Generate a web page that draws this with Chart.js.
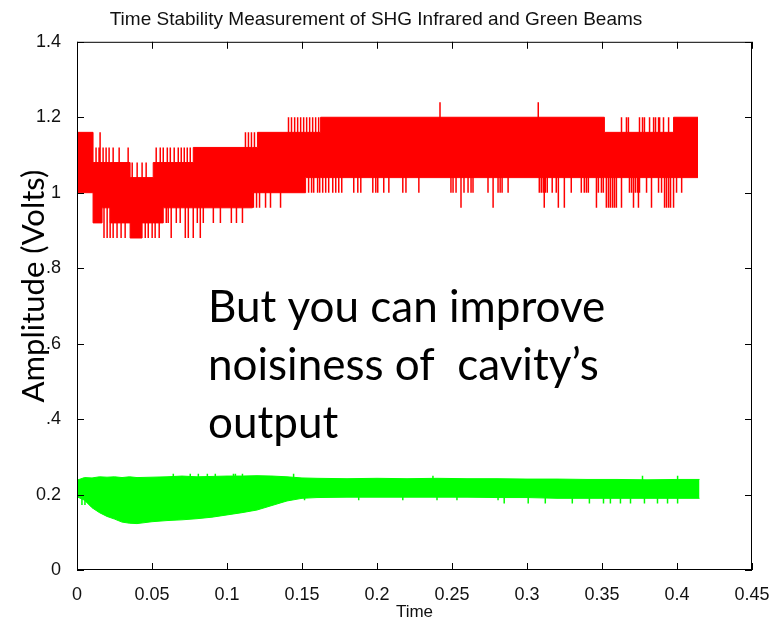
<!DOCTYPE html>
<html>
<head>
<meta charset="utf-8">
<script src="https://cdn.jsdelivr.net/npm/chart.js@4/dist/chart.umd.min.js"></script>
<style>
  body { margin: 0; background: #fff; }
  #myChart { display: block; }
</style>
</head>
<body>
<canvas id="myChart" width="781" height="625"></canvas>
<script>
// axis ticks (the slide covers the "0" of 0.4 .. 0.8)
const xTickLabels = ["0", "0.05", "0.1", "0.15", "0.2", "0.25", "0.3", "0.35", "0.4", "0.45"];
const yTickLabels = ["0", "0.2", ".4", ".6", ".8", "1", "1.2", "1.4"];

// infrared (red) beam: solid band of the noise, each value holds until the next time
const redT  = [0, 0.0107, 0.0167, 0.0221, 0.0354, 0.0434, 0.0508, 0.0575, 0.0775, 0.117, 0.1203, 0.1524, 0.1624, 0.3516, 0.3977, 0.414];
const redLo = [1.00, 0.92, 0.96, 0.92, 0.88, 0.92, 0.92, 0.96, 0.96, 1.00, 1.00, 1.04, 1.04, 1.04, 1.04, 1.04];
const redHi = [1.16, 1.08, 1.08, 1.08, 1.04, 1.04, 1.08, 1.08, 1.12, 1.12, 1.16, 1.16, 1.20, 1.16, 1.20, 1.20];

// single samples that jump out of the band (time lists per level)
const redDip088 = [0.018, 0.0201, 0.0221, 0.0241, 0.0267, 0.0294, 0.0321, 0.0455, 0.0475, 0.0501, 0.0521, 0.0548, 0.0628, 0.0722, 0.0742, 0.0775, 0.0822];
const redDip092 = [0.0595, 0.0608, 0.0662, 0.0688, 0.0802, 0.0842, 0.0909, 0.0956, 0.1029, 0.1063, 0.1103];
const redDip096 = [0.1176, 0.1197, 0.1217, 0.1257, 0.129, 0.1357, 0.256, 0.2774, 0.3115, 0.3209, 0.3249, 0.3463, 0.3529, 0.3543, 0.3556, 0.357, 0.3583, 0.3596, 0.363, 0.371, 0.3743, 0.383, 0.3917, 0.393, 0.3944, 0.3957, 0.3977];
const redDip100 = [0.1544, 0.1564, 0.1578, 0.1604, 0.1618, 0.1638, 0.1658, 0.1678, 0.1705, 0.1725, 0.1745, 0.1765, 0.1845, 0.1872, 0.1892, 0.1972, 0.1992, 0.2005, 0.2045, 0.2079, 0.2172, 0.2193, 0.2279, 0.2493, 0.2507, 0.2527, 0.258, 0.2607, 0.2627, 0.264, 0.274, 0.2807, 0.2821, 0.2834, 0.2874, 0.3082, 0.3095, 0.3108, 0.3122, 0.3135, 0.3168, 0.3195, 0.3295, 0.3362, 0.3382, 0.3396, 0.3409, 0.3476, 0.3496, 0.3509, 0.3683, 0.3697, 0.3723, 0.3737, 0.375, 0.3797, 0.3877, 0.3897, 0.3997, 0.4031];
const redPeak108 = [0.0368, 0.0401, 0.0434, 0.0461];
const redPeak112 = [0.0127, 0.0147, 0.0174, 0.0194, 0.0214, 0.0241, 0.0281, 0.0341, 0.0528, 0.0555, 0.0575, 0.0602, 0.0622, 0.0648, 0.0675, 0.0695, 0.0715, 0.0735, 0.0755];
const redPeak116 = [0.0154, 0.1123, 0.1143, 0.1163, 0.1183];
const redPeak120 = [0.141, 0.143, 0.1451, 0.1471, 0.1491, 0.1511, 0.1531, 0.1551, 0.1571, 0.1591, 0.1611, 0.363, 0.3663, 0.3676, 0.375, 0.377, 0.3783, 0.3817, 0.3844, 0.3857, 0.3877, 0.3884, 0.391, 0.3944];
const redPeak124 = [0.242, 0.3075];

// green beam: envelope of the noise band
const greenT  = [0, 0.005, 0.01, 0.015, 0.02, 0.025, 0.03, 0.035, 0.04, 0.05, 0.06, 0.07, 0.08, 0.09, 0.1, 0.11, 0.12, 0.13, 0.14, 0.15, 0.16, 0.18, 0.2, 0.22, 0.24, 0.26, 0.28, 0.3, 0.32, 0.34, 0.36, 0.38, 0.4, 0.415];
const greenHi = [0.238, 0.245, 0.244, 0.247, 0.246, 0.247, 0.245, 0.247, 0.245, 0.246, 0.247, 0.249, 0.247, 0.248, 0.249, 0.249, 0.25, 0.249, 0.247, 0.244, 0.243, 0.242, 0.243, 0.242, 0.243, 0.242, 0.242, 0.241, 0.241, 0.240, 0.240, 0.239, 0.240, 0.240];
const greenLo = [0.194, 0.185, 0.165, 0.152, 0.142, 0.135, 0.127, 0.124, 0.123, 0.128, 0.131, 0.133, 0.136, 0.14, 0.146, 0.152, 0.159, 0.171, 0.183, 0.19, 0.192, 0.193, 0.193, 0.193, 0.193, 0.193, 0.192, 0.192, 0.19, 0.19, 0.19, 0.19, 0.19, 0.19];
const greenDip172 = [0.0033, 0.0053];
const greenDip185 = [0.1517, 0.1878, 0.2172, 0.24, 0.2533, 0.2807];
const greenDip176 = [0.2848, 0.3008, 0.3122, 0.3302, 0.3416, 0.351, 0.3556, 0.3623, 0.369, 0.3783, 0.387, 0.3937, 0.4004];
const greenPeak255 = [0.0642, 0.0755, 0.0809, 0.0869, 0.0922, 0.1043, 0.1056, 0.1103, 0.1444];
const greenPeak250 = [0.2373, 0.377, 0.4004];

const RED = "#ff0000";
const GREEN = "#00ff00";
const tickFont = { family: "'Liberation Sans', Arial, sans-serif", size: 18 };
const slideFont = "Lato, 'Open Sans', sans-serif";

const pts = (xs, ys) => xs.map((x, i) => ({ x: x, y: ys[i] }));

// middle of the red band at time t, spikes start from there
function redMid(t) {
  let i = 0;
  while (i < redT.length - 1 && redT[i + 1] <= t) i++;
  return (redLo[i] + redHi[i]) / 2;
}

// vertical spike lines, separated by null points
function spikes(groups, mid) {
  const list = [];
  groups.forEach(([level, times]) => times.forEach((t) => list.push({ t: t, v: level })));
  list.sort((a, b) => a.t - b.t);
  const out = [];
  list.forEach((s) => {
    out.push({ x: s.t, y: mid(s.t) }, { x: s.t, y: s.v }, { x: s.t, y: null });
  });
  return out;
}

const redSpikes = spikes([
  [0.88, redDip088], [0.92, redDip092], [0.96, redDip096], [1.00, redDip100],
  [1.08, redPeak108], [1.12, redPeak112], [1.16, redPeak116], [1.20, redPeak120], [1.24, redPeak124],
], redMid);
const greenSpikes = spikes([
  [0.172, greenDip172], [0.185, greenDip185], [0.176, greenDip176],
  [0.255, greenPeak255], [0.25, greenPeak250],
], () => 0.215);

// box with inward ticks (matlab style) + slide texts
const matlabAxes = {
  id: "matlabAxes",
  afterDatasetsDraw(chart) {
    const { ctx, chartArea: { left, right, top, bottom }, scales: { x, y } } = chart;
    ctx.save();
    ctx.strokeStyle = "#000";
    ctx.lineWidth = 1;
    ctx.strokeRect(left + 0.5, top + 0.5, right - left - 1, bottom - top - 1);
    ctx.beginPath();
    x.ticks.forEach((t) => {
      const px = Math.round(x.getPixelForValue(t.value)) + 0.5;
      ctx.moveTo(px, bottom); ctx.lineTo(px, bottom - 7);
      ctx.moveTo(px, top); ctx.lineTo(px, top + 7);
    });
    y.ticks.forEach((t) => {
      const py = Math.round(y.getPixelForValue(t.value)) + 0.5;
      ctx.moveTo(left, py); ctx.lineTo(left + 7, py);
      ctx.moveTo(right, py); ctx.lineTo(right - 7, py);
    });
    ctx.stroke();
    ctx.restore();
  },
  afterDraw(chart) {
    const ctx = chart.ctx;
    ctx.save();
    ctx.fillStyle = "#000";
    // y label of the slide
    ctx.translate(34, 286);
    ctx.rotate(-Math.PI / 2);
    ctx.font = "31px " + slideFont;
    ctx.textAlign = "center";
    ctx.textBaseline = "middle";
    ctx.fillText("Amplitude (Volts)", 0, 0);
    ctx.restore();

    ctx.save();
    ctx.fillStyle = "#000";
    ctx.font = "44px " + slideFont;
    ctx.textAlign = "left";
    ctx.textBaseline = "alphabetic";
    ctx.fillText("But you can improve", 208, 322);
    ctx.fillText("noisiness of  cavity\u2019s", 208, 380);
    ctx.fillText("output", 208, 438);
    ctx.restore();
  },
};

new Chart("myChart", {
  type: "line",
  data: {
    datasets: [
      {
        label: "Infrared high",
        data: pts(redT, redHi),
        stepped: "before",
        borderColor: RED,
        borderWidth: 1,
        pointRadius: 0,
        fill: false,
      },
      {
        label: "Infrared",
        data: pts(redT, redLo),
        stepped: "before",
        borderColor: RED,
        borderWidth: 1,
        backgroundColor: RED,
        pointRadius: 0,
        fill: "-1",
      },
      {
        label: "Infrared spikes",
        data: redSpikes,
        borderColor: RED,
        borderWidth: 1.5,
        pointRadius: 0,
        spanGaps: false,
        fill: false,
      },
      {
        label: "Green high",
        data: pts(greenT, greenHi),
        borderColor: GREEN,
        borderWidth: 1,
        pointRadius: 0,
        fill: false,
      },
      {
        label: "Green",
        data: pts(greenT, greenLo),
        borderColor: GREEN,
        borderWidth: 1,
        backgroundColor: GREEN,
        pointRadius: 0,
        fill: "-1",
      },
      {
        label: "Green spikes",
        data: greenSpikes,
        borderColor: GREEN,
        borderWidth: 1.5,
        pointRadius: 0,
        spanGaps: false,
        fill: false,
      },
    ],
  },
  options: {
    responsive: false,
    animation: false,
    layout: { padding: { right: 29 } },
    plugins: {
      legend: { display: false },
      tooltip: { enabled: false },
      title: {
        display: true,
        text: "Time Stability Measurement of SHG Infrared and Green Beams",
        color: "#111",
        font: { family: tickFont.family, size: 19, weight: "normal" },
        padding: { top: 8, bottom: 11 },
      },
    },
    scales: {
      x: {
        type: "linear",
        min: 0,
        max: 0.45,
        grid: { display: false },
        border: { display: false },
        ticks: {
          stepSize: 0.05,
          autoSkip: false,
          maxRotation: 0,
          padding: 6,
          color: "#111",
          font: tickFont,
          callback: (value, index) => xTickLabels[index],
        },
        title: {
          display: true,
          text: "Time",
          color: "#111",
          font: { family: tickFont.family, size: 17 },
          padding: { top: 0, bottom: 2 },
        },
        afterFit: (scale) => { scale.height = 55; },
      },
      y: {
        min: 0,
        max: 1.4,
        grid: { display: false },
        border: { display: false },
        ticks: {
          stepSize: 0.2,
          padding: 8,
          color: "#111",
          font: tickFont,
          callback: (value, index) => yTickLabels[index],
        },
        afterFit: (scale) => { scale.width = 77; },
      },
    },
  },
  plugins: [matlabAxes],
});
</script>
</body>
</html>
